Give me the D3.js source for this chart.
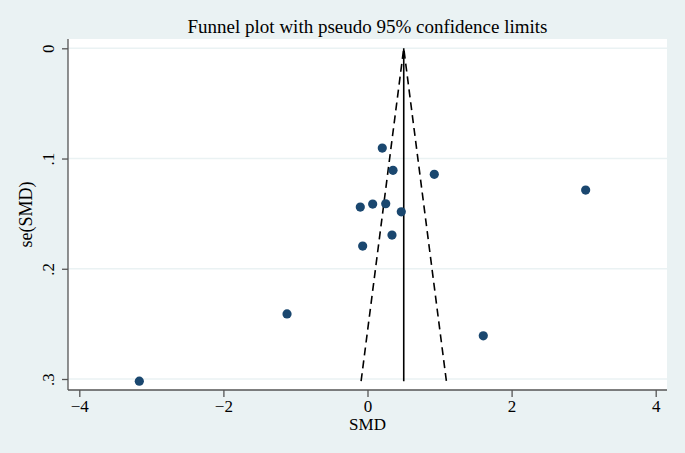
<!DOCTYPE html>
<html>
<head>
<meta charset="utf-8">
<script src="https://cdn.jsdelivr.net/npm/d3@7"></script>
<style>
  html, body { margin: 0; padding: 0; background: #eaf2f3; }
  svg { display: block; }
  text { font-family: "Liberation Serif", "DejaVu Serif", serif; fill: #000; }
</style>
</head>
<body>
<svg id="canvas_funnel" width="685" height="453"></svg>
<script>
'use strict';

/* study estimates */
const smd = [0.205, 0.354, 0.927, 3.028, -0.100, 0.072, 0.253, 0.469, 0.340, -0.067, -1.117, 1.607, -3.167];
const seSmd = [0.0905, 0.1107, 0.1143, 0.1286, 0.1440, 0.1413, 0.1410, 0.1483, 0.1694, 0.1794, 0.2410, 0.2608, 0.3020];

/* pooled estimate and axis ticks */
const pooled = 0.503;
const xTicks = [-4, -2, 0, 2, 4];
const yTicks = [0, 0.1, 0.2, 0.3];
const yTickLabels = ['0', '.1', '.2', '.3'];

const svg = d3.select('svg#canvas_funnel');

/* plot region */
const plot = { left: 68, right: 667, top: 39, bottom: 390 };

const x = d3.scaleLinear().domain([-4, 4]).range([79.3, 655.7]);
const y = d3.scaleLinear().domain([0, 0.3]).range([48.3, 379]);

svg.append('rect')
  .attr('width', 685).attr('height', 453)
  .style('fill', '#eaf2f3');

svg.append('rect')
  .attr('x', plot.left).attr('y', plot.top)
  .attr('width', plot.right - plot.left)
  .attr('height', plot.bottom - plot.top)
  .style('fill', '#ffffff');

/* horizontal grid lines */
svg.append('g').selectAll('line')
  .data(yTicks)
  .enter().append('line')
  .attr('x1', plot.left).attr('x2', plot.right)
  .attr('y1', d => y(d)).attr('y2', d => y(d))
  .style('stroke', '#eaf2f3')
  .style('stroke-width', 1.5);

/* funnel: pseudo 95% limits */
const seMax = d3.max(seSmd);
const funnel = [
  [pooled - 1.96 * seMax, seMax],
  [pooled, 0],
  [pooled + 1.96 * seMax, seMax]
];
svg.append('path')
  .datum(funnel)
  .attr('d', d3.line().x(d => x(d[0])).y(d => y(d[1])))
  .style('fill', 'none')
  .style('stroke', '#000')
  .style('stroke-width', 1.6)
  .style('stroke-dasharray', '8,5');

svg.append('line')
  .attr('x1', x(pooled)).attr('x2', x(pooled))
  .attr('y1', y(0)).attr('y2', y(seMax))
  .style('stroke', '#000')
  .style('stroke-width', 1.6);

/* study points */
svg.append('g').selectAll('circle')
  .data(smd.map((d, i) => ({ x: d, se: seSmd[i] })))
  .enter().append('circle')
  .attr('cx', d => x(d.x))
  .attr('cy', d => y(d.se))
  .attr('r', 4.6)
  .style('fill', '#1a476f');

/* x axis */
const xAxis = svg.append('g')
  .attr('transform', `translate(0,${plot.bottom})`)
  .call(d3.axisBottom(x).tickValues(xTicks).tickSize(7).tickPadding(3)
    .tickFormat(d => d < 0 ? '\u2212' + Math.abs(d) : String(d)));
xAxis.select('.domain').attr('d', `M${plot.left},0H${plot.right}`)
  .style('stroke', '#555').style('stroke-width', 1.3);
xAxis.selectAll('.tick line').style('stroke', '#555').style('stroke-width', 1.3);
xAxis.selectAll('.tick text')
  .style('font-family', '"Liberation Serif", serif')
  .style('font-size', '17px').style('fill', '#000');

/* y axis, labels rotated as in Stata */
const yAxis = svg.append('g')
  .attr('transform', `translate(${plot.left},0)`)
  .call(d3.axisLeft(y).tickValues(yTicks).tickSize(6).tickPadding(0)
    .tickFormat((d, i) => yTickLabels[i]));
yAxis.select('.domain').attr('d', `M0,${plot.top}V${plot.bottom}`)
  .style('stroke', '#555').style('stroke-width', 1.3);
yAxis.selectAll('.tick line').style('stroke', '#555').style('stroke-width', 1.3);
yAxis.selectAll('.tick text')
  .attr('x', null).attr('dy', null)
  .attr('transform', 'translate(-20,0) rotate(-90)')
  .attr('text-anchor', 'middle')
  .attr('dy', '0.35em')
  .style('font-family', '"Liberation Serif", serif')
  .style('font-size', '17px').style('fill', '#000');

/* titles */
svg.append('text')
  .attr('x', (plot.left + plot.right) / 2).attr('y', 33)
  .attr('text-anchor', 'middle')
  .style('font-size', '19px')
  .text('Funnel plot with pseudo 95% confidence limits');

svg.append('text')
  .attr('x', (plot.left + plot.right) / 2).attr('y', 430)
  .attr('text-anchor', 'middle')
  .style('font-size', '17px')
  .text('SMD');

svg.append('text')
  .attr('transform', `translate(32,${(plot.top + plot.bottom) / 2}) rotate(-90)`)
  .attr('text-anchor', 'middle')
  .style('font-size', '18px')
  .text('se(SMD)');
</script>
</body>
</html>
